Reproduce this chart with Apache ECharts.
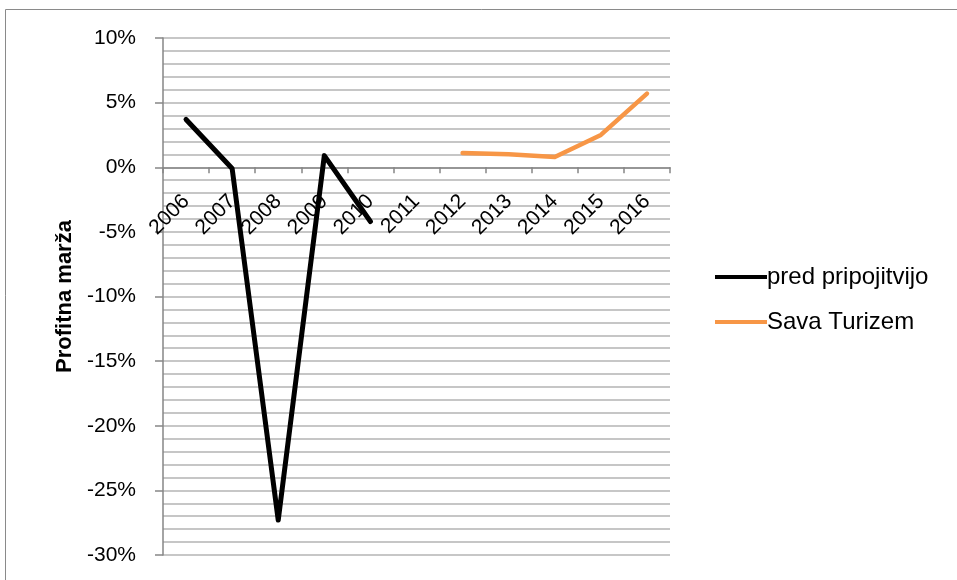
<!DOCTYPE html>
<html><head><meta charset="utf-8">
<script src="https://cdn.jsdelivr.net/npm/echarts@6/dist/echarts.min.js"></script>
<style>html,body{margin:0;padding:0;background:#fff}#c{width:957px;height:580px}</style>
</head><body><div id="c"></div>
<script>
var categories = ['2006','2007','2008','2009','2010','2011','2012','2013','2014','2015','2016'];
var predPripojitvijo = [3.7, -0.1, -27.3, 0.9, -4.2, null, null, null, null, null, null];
var savaTurizem = [null, null, null, null, null, null, 1.1, 1.0, 0.8, 2.5, 5.7];
var seriesNames = ['pred pripojitvijo', 'Sava Turizem'];
var yTitle = 'Profitna marža';
var yMin = -30, yMax = 10, yStep = 5;
var FONT = 'Liberation Sans';

var gridTop = 38, gridBottom = 25, H = 580;
var plotH = H - gridTop - gridBottom;
var zeroOffset = -plotH * (0 - yMin) / (yMax - yMin);

var chart = echarts.init(document.getElementById('c'), null, {renderer: 'canvas'});
chart.setOption({
  animation: false,
  backgroundColor: '#fff',
  textStyle: {fontFamily: FONT},
  graphic: [{type: 'rect', shape: {x: 5.5, y: 9.5, width: 1000, height: 1000}, style: {fill: 'none', stroke: '#8a8a8a', lineWidth: 1}, silent: true}],
  grid: {left: 163, right: 287, top: gridTop, bottom: gridBottom},
  legend: {
    orient: 'vertical', left: 710, top: 260, itemGap: 21,
    itemWidth: 52, itemHeight: 4, icon: 'rect',
    textStyle: {fontFamily: FONT, fontSize: 24, color: '#000', padding: [0, 0, 0, -5]},
    data: seriesNames
  },
  xAxis: {
    type: 'category', data: categories, boundaryGap: true,
    offset: zeroOffset,
    axisLine: {onZero: false, lineStyle: {color: '#868686', width: 1.5}},
    axisTick: {show: true, length: 6, alignWithLabel: false, lineStyle: {color: '#868686', width: 1.5}},
    axisLabel: {rotate: 45, fontFamily: FONT, fontSize: 21, color: '#000', margin: 31, interval: 0},
    splitLine: {show: false}
  },
  yAxis: {
    type: 'value', min: yMin, max: yMax, interval: yStep,
    name: yTitle, nameLocation: 'middle', nameGap: 77,
    nameTextStyle: {fontFamily: FONT, fontSize: 22, fontWeight: 'bold', color: '#000'},
    axisLine: {show: true, lineStyle: {color: '#868686', width: 1.5}},
    axisTick: {show: true, length: 8, lineStyle: {color: '#868686', width: 1.5}},
    axisLabel: {formatter: function(v){return v + '%';}, fontFamily: FONT, fontSize: 21, color: '#000', margin: 27},
    splitLine: {show: true, lineStyle: {color: '#b4b4b4', width: 1.5}},
    minorTick: {show: false, splitNumber: 5},
    minorSplitLine: {show: true, lineStyle: {color: '#b4b4b4', width: 1.5}}
  },
  series: [
    {name: seriesNames[0], type: 'line', data: predPripojitvijo, symbol: 'none', connectNulls: false,
     lineStyle: {color: '#000', width: 5, cap: 'round', join: 'round'}, itemStyle: {color: '#000'}},
    {name: seriesNames[1], type: 'line', data: savaTurizem, symbol: 'none',
     lineStyle: {color: '#F79646', width: 4.5, cap: 'round', join: 'round'}, itemStyle: {color: '#F79646'}}
  ]
});
</script></body></html>
